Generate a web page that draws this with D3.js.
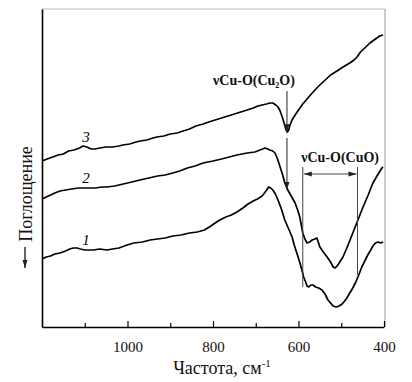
<!DOCTYPE html>
<html>
<head>
<meta charset="utf-8">
<script src="https://cdn.jsdelivr.net/npm/d3@7"></script>
<style>
  html, body { margin: 0; padding: 0; background: #fff; }
  svg text { font-family: "Liberation Serif", "DejaVu Serif", serif !important; }
</style>
</head>
<body>
<div id="chart"></div>
<script>
// IR spectra, [wavenumber cm-1, absorbance (arb. units)]
const curve1 = [[1200,68],[1190,70],[1180,71],[1170,73],[1158,74],[1145,76],[1135,78],[1127,79],[1118,79],[1110,78],
  [1100,77],[1095,77],[1080,77],[1065,78],[1048,77],[1035,78],[1020,79],[1001,82],[985,84],[965,85],[947,87],[930,88],
  [912,89],[894,91],[875,92],[855,94],[837,95],[820,97],[805,101],[795,104],[784,107],[770,110],[757,112],[744,115],
  [730,119],[718,123],[706,126],[696,128],[685,131],[676,136],[670,140],[665,139],[660,137],[654,133],[648,127],
  [640,118],[632,107],[624,99],[615,90],[610,82],[604,74],[598,66],[592,57],[588,50],[585,47],[580,41],[576,40],
  [571,42],[566,42],[560,40],[553,39],[545,37],[538,33],[531,27],[525,24],[519,21],[512,20],[505,21],[498,23],
  [492,26],[487,29],[480,34],[473,39],[466,45],[459,52],[452,60],[445,66],[438,72],[431,77],[426,81],[420,84],
  [414,85],[408,84],[402,85]];

const curve2 = [[1200,128],[1190,130],[1180,132],[1170,134],[1158,136],[1145,137],[1130,138],[1115,139],[1104,139],
  [1090,139],[1075,139],[1060,140],[1048,140],[1030,141],[1010,143],[990,145],[971,147],[950,149],[930,151],[912,152],
  [894,154],[878,156],[860,159],[842,161],[823,164],[800,166],[780,168],[762,170],[744,172],[720,174],[702,175],
  [690,177],[678,179],[672,178],[667,177],[660,176],[655,174],[649,168],[643,160],[637,152],[632,144],[625,137],
  [617,131],[608,124],[602,117],[597,110],[590,94],[585,88],[580,84],[574,85],[568,87],[562,88],[557,89],[553,84],
  [550,80],[542,75],[533,70],[525,65],[519,60],[514,59],[508,62],[496,70],[485,81],[473,94],[461,107],[449,120],
  [437,132],[426,144],[415,152],[405,159],[402,160]];

const curve3 = [[1200,166],[1188,168],[1175,170],[1162,172],[1150,173],[1138,176],[1125,177],[1112,179],[1104,181],
  [1095,180],[1085,178],[1076,178],[1065,179],[1050,180],[1035,180],[1020,181],[1011,182],[995,183],[980,185],
  [970,186],[955,187],[940,189],[931,190],[915,191],[900,193],[884,194],[870,196],[855,198],[840,201],[823,203],
  [810,205],[795,207],[780,209],[765,211],[750,213],[735,215],[720,217],[706,219],[695,221],[685,222],[675,223],
  [667,224],[660,224],[653,222],[648,220],[643,216],[638,210],[633,203],[629,197],[626,195],[623,197],[620,202],
  [615,207],[608,212],[600,217],[590,223],[580,228],[570,233],[555,240],[540,246],[525,252],[510,256],[496,260],
  [480,264],[470,267],[463,270],[455,275],[445,279],[433,284],[420,288],[410,291],[402,292]];

const series = [curve1, curve2, curve3];
const seriesNames = ["1", "2", "3"];
const majorTicks = [1000, 800, 600, 400];
const minorTicks = [1100, 900, 700, 500];
const cu2oBand = 627;          // Cu2O arrow
const cuoBand = [590, 462];    // CuO range

const width = 412, height = 382;
const margin = { top: 9, right: 28, bottom: 55, left: 42 };

const svg = d3.select("#chart")
  .append("svg")
  .attr("width", width)
  .attr("height", height);

const x = d3.scaleLinear()
  .domain([1200, 400])
  .range([margin.left, width - margin.right]);

const y = d3.scaleLinear()
  .domain([0, 318])
  .range([height - margin.bottom, margin.top]);

const valueAt = (data, w) => {
  const s = data.slice().sort((a, b) => a[0] - b[0]);
  const i = d3.bisector(d => d[0]).left(s, w);
  if (i <= 0) return s[0][1];
  if (i >= s.length) return s[s.length - 1][1];
  const a = s[i - 1], b = s[i];
  return a[1] + (b[1] - a[1]) * (w - a[0]) / (b[0] - a[0]);
};

// frame: top/right faint
svg.append("line")
  .attr("x1", x(1200)).attr("x2", x(400) + 1)
  .attr("y1", y(318)).attr("y2", y(318))
  .attr("stroke", "#bbb").attr("stroke-width", 1);
svg.append("line")
  .attr("x1", x(400) + 1).attr("x2", x(400) + 1)
  .attr("y1", y(318)).attr("y2", y(0))
  .attr("stroke", "#aaa").attr("stroke-width", 1.2);

// x axis, ticks pointing inward
const xAxisMajor = d3.axisBottom(x)
  .tickValues(majorTicks)
  .tickSizeInner(-6)
  .tickSizeOuter(0)
  .tickPadding(14)
  .tickFormat(d3.format("d"));

const xAxisMinor = d3.axisBottom(x)
  .tickValues(minorTicks)
  .tickSizeInner(-4)
  .tickSizeOuter(0)
  .tickFormat("");

const gx = svg.append("g")
  .attr("transform", `translate(0,${y(0)})`)
  .call(xAxisMajor);
gx.select(".domain").attr("stroke", "#000").attr("stroke-width", 1.6);
gx.selectAll(".tick line").attr("stroke-width", 1.2);
gx.selectAll("text")
  .attr("font-size", 15)
  .attr("fill", "#111");

const gxm = svg.append("g")
  .attr("transform", `translate(0,${y(0)})`)
  .call(xAxisMinor);
gxm.select(".domain").remove();
gxm.selectAll(".tick line").attr("stroke-width", 1.2);

// y axis, no ticks
const gy = svg.append("g")
  .attr("transform", `translate(${x(1200)},0)`)
  .call(d3.axisLeft(y).tickValues([]).tickSizeOuter(0));
gy.select(".domain").attr("stroke", "#000").attr("stroke-width", 1.6);

// spectra
const line = d3.line()
  .x(d => x(d[0]))
  .y(d => y(d[1]));

svg.selectAll(".spectrum")
  .data(series)
  .enter().append("path")
  .attr("class", "spectrum")
  .attr("d", line)
  .attr("fill", "none")
  .attr("stroke", "#000")
  .attr("stroke-width", 1.7)
  .attr("stroke-linejoin", "round");

// curve numbers
svg.selectAll(".curve-label")
  .data(series)
  .enter().append("text")
  .attr("class", "curve-label")
  .attr("x", x(1097))
  .attr("y", d => y(valueAt(d, 1097)) - 5)
  .attr("text-anchor", "middle")
  .attr("font-style", "italic")
  .attr("font-size", 15)
  .text((d, i) => seriesNames[i]);

// arrow heads
const defs = svg.append("defs");
defs.append("marker")
  .attr("id", "head")
  .attr("markerUnits", "userSpaceOnUse")
  .attr("viewBox", "0 -3 8 6")
  .attr("refX", 8).attr("refY", 0)
  .attr("markerWidth", 8).attr("markerHeight", 6)
  .attr("orient", "auto")
  .append("path")
  .attr("d", "M0,-2.5L8,0L0,2.5Z")
  .attr("fill", "#222");

// Cu2O annotation
const ax = x(cu2oBand);
svg.append("line")
  .attr("x1", ax).attr("x2", ax)
  .attr("y1", 91).attr("y2", y(valueAt(curve3, cu2oBand)) + 1)
  .attr("stroke", "#222").attr("stroke-width", 1)
  .attr("marker-end", "url(#head)");
svg.append("line")
  .attr("x1", ax).attr("x2", ax)
  .attr("y1", 138).attr("y2", y(valueAt(curve2, cu2oBand)) + 2)
  .attr("stroke", "#222").attr("stroke-width", 1)
  .attr("marker-end", "url(#head)");

const t1 = svg.append("text")
  .attr("x", 254).attr("y", 85)
  .attr("text-anchor", "middle")
  .attr("font-weight", "bold")
  .attr("font-size", 14)
  .attr("fill", "#111");
t1.append("tspan").text("νCu-O(Cu");
t1.append("tspan").attr("dy", 3).attr("font-size", 8).text("2");
t1.append("tspan").attr("dy", -3).text("O)");

// CuO annotation
const [bx1, bx2] = cuoBand.map(x);
svg.append("text")
  .attr("x", (bx1 + bx2) / 2 + 10).attr("y", 162)
  .attr("text-anchor", "middle")
  .attr("font-weight", "bold")
  .attr("font-size", 14)
  .attr("fill", "#111")
  .text("νCu-O(CuO)");

svg.append("line")
  .attr("x1", bx1).attr("x2", bx1)
  .attr("y1", 167).attr("y2", 287)
  .attr("stroke", "#444").attr("stroke-width", 1);
svg.append("line")
  .attr("x1", bx2).attr("x2", bx2)
  .attr("y1", 167).attr("y2", 275)
  .attr("stroke", "#444").attr("stroke-width", 1);
svg.append("line")
  .attr("x1", (bx1 + bx2) / 2).attr("x2", bx1 + 1)
  .attr("y1", 174).attr("y2", 174)
  .attr("stroke", "#444").attr("stroke-width", 1)
  .attr("marker-end", "url(#head)");
svg.append("line")
  .attr("x1", (bx1 + bx2) / 2).attr("x2", bx2 - 1)
  .attr("y1", 174).attr("y2", 174)
  .attr("stroke", "#444").attr("stroke-width", 1)
  .attr("marker-end", "url(#head)");

// axis titles
const xl = svg.append("text")
  .attr("x", 222).attr("y", 374)
  .attr("text-anchor", "middle")
  .attr("font-size", 18)
  .attr("fill", "#111");
xl.append("tspan").text("Частота, см");
xl.append("tspan").attr("dy", -7).attr("font-size", 11).text("-1");

svg.append("text")
  .attr("transform", "translate(32,194) rotate(-90)")
  .attr("text-anchor", "middle")
  .attr("font-size", 18)
  .attr("fill", "#111")
  .text("Поглощение");

svg.append("line")
  .attr("x1", 25).attr("x2", 25)
  .attr("y1", 247).attr("y2", 268)
  .attr("stroke", "#111").attr("stroke-width", 1.3)
  .attr("marker-end", "url(#head)");
</script>
</body>
</html>
